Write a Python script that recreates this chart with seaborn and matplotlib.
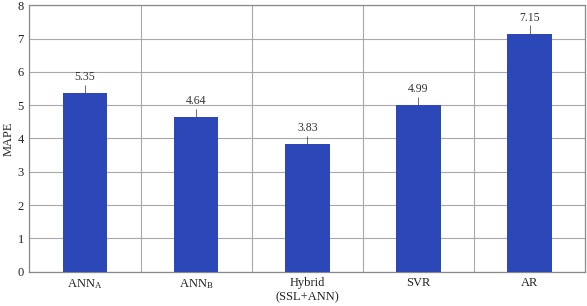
import matplotlib
matplotlib.use("Agg")
import matplotlib.pyplot as plt
import pandas as pd
import seaborn as sns

# data
models = ["ANN$_\\mathregular{A}$", "ANN$_\\mathregular{B}$", "Hybrid\n(SSL+ANN)", "SVR", "AR"]
mape = [5.35, 4.64, 3.83, 4.99, 7.15]
value_labels = ["5.35", "4.64", "3.83", "4.99", "7.15"]

df = pd.DataFrame({"model": models, "mape": mape})

sns.set_style("white")
plt.rcParams["font.family"] = ["Liberation Serif", "DejaVu Serif"]
plt.rcParams["mathtext.fontset"] = "stix"

bar_color = "#2c48b8"
grid_color = "#a8a8a8"

fig, ax = plt.subplots(figsize=(5.87, 3.06), dpi=100)
fig.subplots_adjust(left=0.05, right=0.997, top=0.983, bottom=0.112)

sns.barplot(data=df, x="model", y="mape", color=bar_color, width=0.4,
            saturation=1, linewidth=0, ax=ax, zorder=3)

ax.set_ylim(0, 8)
ax.set_xlim(-0.5, len(models) - 0.5)
ax.set_yticks(range(0, 9))
ax.set_xlabel("")
ax.set_ylabel("MAPE", fontsize=9, labelpad=2)

# grid: horizontal at each unit, vertical at category boundaries
ax.grid(axis="y", color=grid_color, linewidth=0.8, zorder=0)
for b in [0.5, 1.5, 2.5, 3.5]:
    ax.axvline(b, color=grid_color, linewidth=0.8, zorder=0)

for i, (v, s) in enumerate(zip(mape, value_labels)):
    ax.vlines(i, v, v + 0.25, color="#555555", linewidth=0.6, zorder=4)
    ax.text(i, v + 0.3, s, ha="center", va="bottom", fontsize=8.5, color="#333333")

for side in ["left", "bottom", "top", "right"]:
    ax.spines[side].set_visible(True)
    ax.spines[side].set_color("#888888")
    ax.spines[side].set_linewidth(0.9)

ax.tick_params(axis="both", length=0, labelsize=9, colors="#222222")
ax.tick_params(axis="x", pad=4)
ax.tick_params(axis="y", pad=4)

fig.savefig("out.png", dpi=100)
